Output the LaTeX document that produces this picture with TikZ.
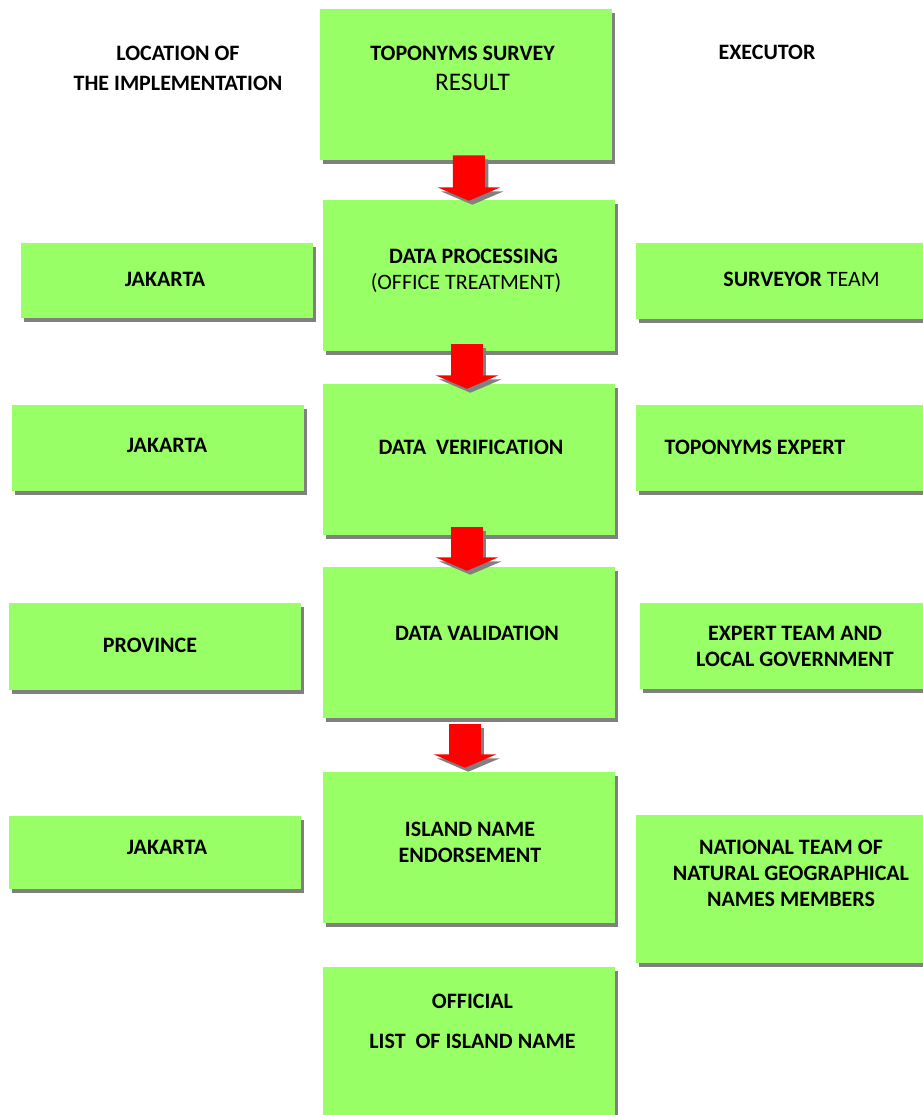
\documentclass[tikz,border=0pt]{standalone}
\usepackage{fontspec}
\setmainfont{Carlito}
\usepackage{xcolor}
\usepackage{tikz}
\usetikzlibrary{arrows.meta,shadows}
\definecolor{boxgreen}{RGB}{153,255,102}
\definecolor{shadowgray}{RGB}{128,128,128}

\begin{document}
\begin{tikzpicture}[
    x=0.75pt, y=-0.75pt,
    box/.style={rectangle, fill=boxgreen, inner sep=0pt, drop shadow={shadow xshift=2.5pt, shadow yshift=-3pt, fill=shadowgray, opacity=1}},
    stage/.style={box, minimum width=219pt, minimum height=113.25pt},
    side/.style={box, minimum width=219pt},
    lbl/.style={font=\fontsize{16.5}{19.5}\selectfont\bfseries, align=center, inner sep=0pt},
    flow/.style={line width=24pt, draw=red, -{Triangle[width=46.5pt, length=10pt]}},
    flowshadow/.style={flow, draw=shadowgray, transform canvas={xshift=2.5pt, yshift=-3pt}}
]
\useasboundingbox (0,0) rectangle (923,1115);

% Nodes
\node[stage] (survey) at (465.5,84.5) {};
\node[stage] (process) at (469,275.5) {};
\node[stage] (verify) at (469,459.5) {};
\node[stage] (validate) at (469,642.5) {};
\node[stage] (endorse) at (469,847.5) {};
\node[stage] (official) at (469,1042.5) {};

\node[side, minimum height=56.25pt] (locA) at (166.5,280.5) {};
\node[side, minimum height=64.5pt] (locB) at (158,448) {};
\node[side, minimum height=65.25pt] (locC) at (155,646.5) {};
\node[side, minimum height=54.75pt] (locD) at (155,852.5) {};

\node[side, minimum width=215.25pt, minimum height=57pt] (exeA) at (779.5,281) {};
\node[side, minimum width=215.25pt, minimum height=64.5pt] (exeB) at (779.5,448) {};
\node[side, minimum width=212.25pt, minimum height=64.5pt] (exeC) at (781.5,646) {};
\node[side, minimum width=215.25pt, minimum height=111pt] (exeD) at (779.5,889) {};

% Arrows
\draw[flowshadow] ([xshift=2.6pt,yshift=3.75pt]survey.south) -- ([yshift=-0.75pt]process.north);
\draw[flow] ([xshift=2.6pt,yshift=3.75pt]survey.south) -- ([yshift=-0.75pt]process.north);
\draw[flowshadow] ([xshift=-1.5pt,yshift=5.25pt]process.south) -- ([xshift=-1.5pt,yshift=-3.75pt]verify.north);
\draw[flow] ([xshift=-1.5pt,yshift=5.25pt]process.south) -- ([xshift=-1.5pt,yshift=-3.75pt]verify.north);
\draw[flowshadow] ([xshift=-1.5pt,yshift=6pt]verify.south) -- ([xshift=-1.5pt,yshift=-3pt]validate.north);
\draw[flow] ([xshift=-1.5pt,yshift=6pt]verify.south) -- ([xshift=-1.5pt,yshift=-3pt]validate.north);
\draw[flowshadow] ([xshift=-3pt,yshift=-4.5pt]validate.south) -- ([xshift=-3pt,yshift=3pt]endorse.north);
\draw[flow] ([xshift=-3pt,yshift=-4.5pt]validate.south) -- ([xshift=-3pt,yshift=3pt]endorse.north);

% Labels
\node[lbl] (hdrloc) at (178,68) {LOCATION OF\\[3pt]THE IMPLEMENTATION};
\node[lbl] (hdrexe) at (767,52) {EXECUTOR};

\node[lbl] (tSurvey) at (462.5,53) {TOPONYMS SURVEY};
\node[lbl, font=\fontsize{19}{21}\selectfont] (tResult) at (472.5,82) {RESULT};
\node[lbl] (tProcess) at (473.5,256) {DATA PROCESSING};
\node[lbl, font=\fontsize{16.5}{19.5}\selectfont] (tOffice) at (466,283) {(OFFICE TREATMENT)};
\node[lbl] (tVerify) at (471,447) {DATA\ \ VERIFICATION};
\node[lbl] (tValidate) at (477,633) {DATA VALIDATION};
\node[lbl] (tEndorse) at (470,842) {ISLAND NAME\\ENDORSEMENT};
\node[lbl] (tOfficial) at (472.5,1021.5) {OFFICIAL\\[11pt]LIST\ \ OF ISLAND NAME};

\node[lbl] (tLocA) at (165,279) {JAKARTA};
\node[lbl] (tLocB) at (167,445) {JAKARTA};
\node[lbl] (tLocC) at (150,645) {PROVINCE};
\node[lbl] (tLocD) at (167,847) {JAKARTA};

\node[lbl] (tExeA) at (801.5,279) {SURVEYOR \mdseries TEAM};
\node[lbl] (tExeB) at (755,447) {TOPONYMS EXPERT};
\node[lbl] (tExeC) at (795,646) {EXPERT TEAM AND\\LOCAL GOVERNMENT};
\node[lbl] (tExeD) at (791,873.5) {NATIONAL TEAM OF\\NATURAL GEOGRAPHICAL\\NAMES MEMBERS};

\end{tikzpicture}
\end{document}
